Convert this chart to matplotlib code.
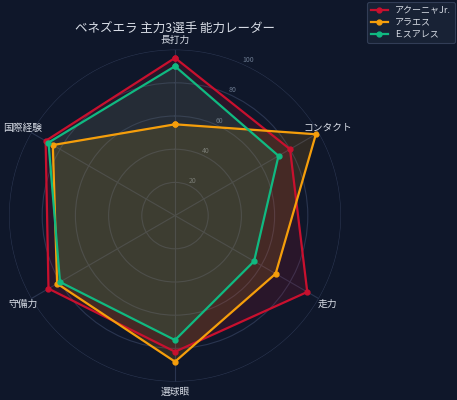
import numpy as np
import matplotlib
matplotlib.use("Agg")
import matplotlib.pyplot as plt

plt.rcParams["font.family"] = ["Noto Sans CJK JP", "DejaVu Sans"]

# ability categories (clockwise from top)
categories = ["長打力", "コンタクト", "走力", "選球眼", "守備力", "国際経験"]
players = ["アクーニャJr.", "アラエス", "E.スアレス"]
acuna = [95, 80, 92, 82, 88, 90]
arraez = [55, 98, 70, 88, 82, 85]
suarez = [90, 72, 55, 75, 80, 88]
colors = ["#c8102e", "#f59e0b", "#10b981"]
r_ticks = [20, 40, 60, 80, 100]

bg = "#0f172a"
grid_c = "#2a3550"
text_c = "#d8dde6"

fig = plt.figure(figsize=(4.57, 4.0), dpi=100, facecolor=bg)
ax = fig.add_axes([0.0197, 0.046, 0.7265, 0.83], projection="polar", facecolor=bg)
ax.set_theta_zero_location("N")
ax.set_theta_direction(-1)

angles = np.linspace(0, 2 * np.pi, len(categories), endpoint=False)
closed = np.concatenate([angles, angles[:1]])

for name, vals, c in zip(players, [acuna, arraez, suarez], colors):
    v = np.array(vals + vals[:1], dtype=float)
    ax.fill(closed, v, color=c, alpha=0.14, zorder=2)
    ax.plot(closed, v, color=c, linewidth=1.6, marker="o", markersize=3.5,
            label=name, zorder=3)

ax.set_ylim(0, 100)
ax.set_yticks(r_ticks)
ax.set_yticklabels([str(t) for t in r_ticks], color="#6b7a90", fontsize=5)
ax.set_rlabel_position(24)
ax.set_xticks(angles)
ax.set_xticklabels([])
for a, lab in zip(angles, categories):
    ax.text(a, 106, lab, ha="center", va="center", color=text_c, fontsize=7)

ax.grid(color=grid_c, linewidth=0.8)
ax.spines["polar"].set_visible(False)
ax.tick_params(axis="x", length=0)

fig.text(175 / 457, 0.93, "ベネズエラ 主力3選手 能力レーダー", ha="center", va="center",
         color=text_c, fontsize=9)

leg = fig.legend(loc="upper right", bbox_to_anchor=(1.0, 1.0), fontsize=6.5,
                 facecolor="#1b2538", edgecolor="#3a4660", labelcolor=text_c,
                 handlelength=1.8, borderpad=0.45, labelspacing=0.3,
                 borderaxespad=0.25)
leg.get_frame().set_linewidth(0.8)

fig.savefig("out.png", dpi=100, facecolor=bg)
